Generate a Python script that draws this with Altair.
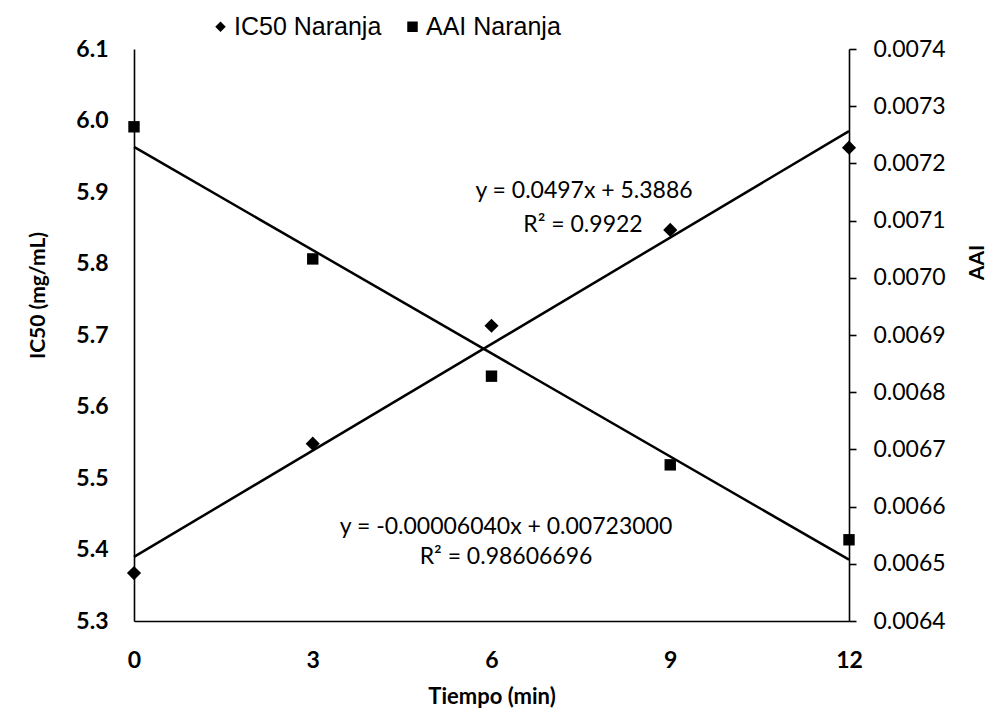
import altair as alt
import pandas as pd

# ---- data ----
tiempo = [0, 3, 6, 9, 12]
ic50 = [5.367, 5.548, 5.713, 5.847, 5.962]
aai = [0.007264, 0.007033, 0.006828, 0.006673, 0.006542]
series_names = ["IC50 Naranja", "AAI Naranja"]
x_ticks = [0, 3, 6, 9, 12]
ic50_ticks = [5.3, 5.4, 5.5, 5.6, 5.7, 5.8, 5.9, 6.0, 6.1]
aai_ticks = [0.0064, 0.0065, 0.0066, 0.0067, 0.0068, 0.0069, 0.0070, 0.0071, 0.0072, 0.0073, 0.0074]
eq_ic50 = ["y = 0.0497x + 5.3886", "R\u00b2 = 0.9922"]
eq_aai = ["y = -0.00006040x + 0.00723000", "R\u00b2 = 0.98606696"]

df = pd.DataFrame({"tiempo": tiempo, "IC50": ic50, "AAI": aai})

FONT = "Lato"
W, H = 715, 572

xenc = alt.X("tiempo:Q",
             scale=alt.Scale(domain=[0, 12], nice=False, zero=False),
             axis=alt.Axis(values=x_ticks, title="Tiempo (min)", ticks=False,
                           grid=False, domainColor="black", domainWidth=1.6,
                           labelFont=FONT, labelFontSize=23, labelFontWeight="bold",
                           labelColor="black", labelPadding=28, labelFlush=False,
                           titleFont=FONT, titleFontSize=22, titleFontWeight="bold",
                           titleColor="black", titleBaseline="middle", titleY=75))

shape_scale = alt.Scale(domain=series_names, range=["diamond", "square"])
legend = alt.Legend(title=None, orient="none", direction="horizontal",
                    legendX=74, legendY=-35,
                    labelFont="Liberation Sans", labelFontSize=25, labelColor="black",
                    symbolSize=110, symbolFillColor="black", symbolStrokeColor="black",
                    symbolStrokeWidth=0, labelOffset=1, columnPadding=18)

yl = alt.Y("IC50:Q",
           scale=alt.Scale(domain=[5.3, 6.1], nice=False, zero=False),
           axis=alt.Axis(values=ic50_ticks, format=".1f", title="IC50 (mg/mL)",
                         ticks=False, grid=False, domainColor="black", domainWidth=1.6,
                         labelFont=FONT, labelFontSize=23, labelFontWeight="bold",
                         labelColor="black", labelPadding=26,
                         titleFont=FONT, titleFontSize=21, titleFontWeight="bold",
                         titleColor="black", titleAngle=270, titleBaseline="middle",
                         titleX=-96, titleY=246))

yr = alt.Y("AAI:Q",
           scale=alt.Scale(domain=[0.0064, 0.0074], nice=False, zero=False),
           axis=alt.Axis(orient="right", values=aai_ticks, format=".4f", title="AAI",
                         ticks=True, tickSize=7, tickColor="black", tickWidth=1.6,
                         grid=False, domainColor="black", domainWidth=1.6,
                         labelFont=FONT, labelFontSize=23, labelFontWeight="normal",
                         labelColor="black", labelPadding=17,
                         titleFont=FONT, titleFontSize=21, titleFontWeight="bold",
                         titleColor="black", titleAngle=270, titleBaseline="middle",
                         titleX=128, titleY=213))

base = alt.Chart(df)

ic_line = base.transform_regression("tiempo", "IC50", extent=[0, 12]).mark_line(
    color="black", strokeWidth=2.5).encode(x=xenc, y=yl)
ic_pts = base.transform_calculate(serie="'IC50 Naranja'").mark_point(
    filled=True, size=200, color="black", opacity=1).encode(
    x=xenc, y=yl, shape=alt.Shape("serie:N", scale=shape_scale, legend=legend))

aai_line = base.transform_regression("tiempo", "AAI", extent=[0, 12]).mark_line(
    color="black", strokeWidth=2.5).encode(x=xenc, y=yr)
aai_pts = base.transform_calculate(serie="'AAI Naranja'").mark_point(
    filled=True, size=130, color="black", opacity=1).encode(
    x=xenc, y=yr, shape=alt.Shape("serie:N", scale=shape_scale, legend=legend))


def note(txt, px, py):
    return alt.Chart(pd.DataFrame({"t": [txt]})).mark_text(
        font=FONT, fontSize=23, color="black", align="center", baseline="middle"
    ).encode(x=alt.value(px), y=alt.value(py), text="t:N")


notes = [
    note(eq_ic50[0], 450, 142),
    note(eq_ic50[1], 449, 176),
    note(eq_aai[0], 372, 478),
    note(eq_aai[1], 372, 508),
]

left = alt.layer(ic_line, ic_pts, *notes)
right = alt.layer(aai_line, aai_pts)

chart = alt.layer(left, right).resolve_scale(y="independent").properties(
    width=W, height=H,
    padding={"left": 134, "top": 49, "right": 142, "bottom": 107},
    autosize=alt.AutoSizeParams(type="none"),
    background="white",
).configure_view(stroke=None)

chart.save("out.html", embed_options={"renderer": "svg", "actions": False})
